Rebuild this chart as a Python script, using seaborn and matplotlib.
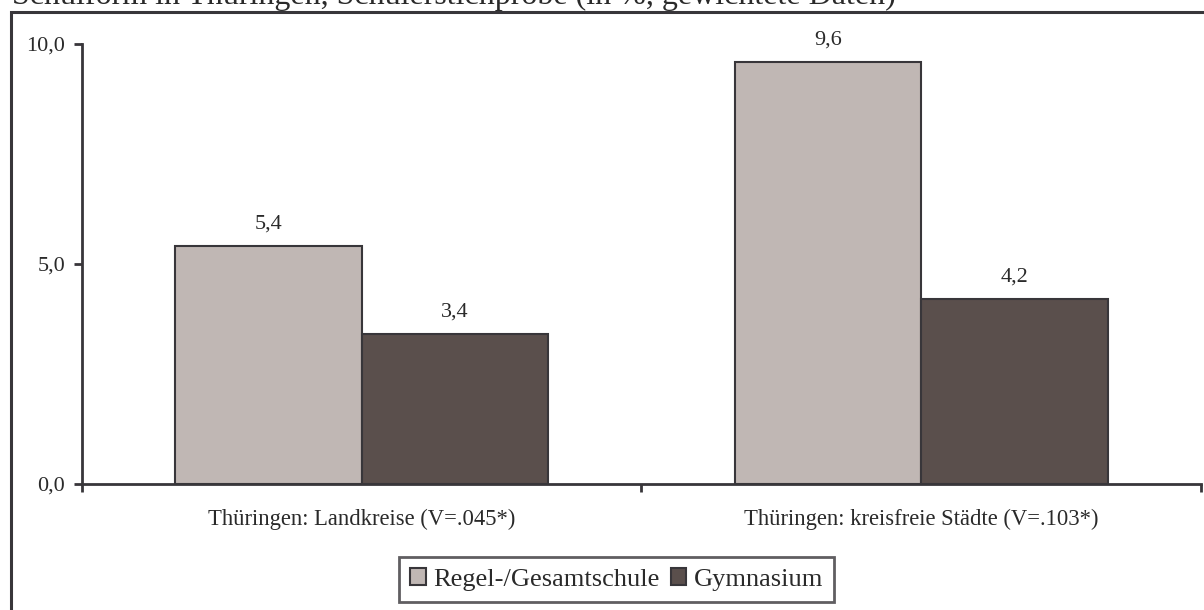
import matplotlib
matplotlib.use("Agg")
import matplotlib.pyplot as plt
from matplotlib.patches import Patch, Rectangle
import seaborn as sns
import pandas as pd

# Data: share (in %) per region and school type
regions = ["Thüringen: Landkreise (V=.045*)", "Thüringen: kreisfreie Städte (V=.103*)"]
schools = ["Regel-/Gesamtschule", "Gymnasium"]
regel_values = [5.4, 9.6]
gym_values = [3.4, 4.2]
y_ticks = [0.0, 5.0, 10.0]
title = "Schulform in Thüringen, Schülerstichprobe (in %, gewichtete Daten)"

colors = {"Regel-/Gesamtschule": "#c0b7b4", "Gymnasium": "#5a4f4c"}
edge = "#38363a"
text_color = "#2a2a2a"

sns.set_theme(style="white")
plt.rcParams["font.family"] = ["Liberation Serif", "DejaVu Serif"]

df = pd.DataFrame({
    "region": regions * 2,
    "school": [schools[0]] * 2 + [schools[1]] * 2,
    "value": regel_values + gym_values,
})

W, H = 1204, 610
fig = plt.figure(figsize=(W / 100, H / 100), dpi=100)
ax = fig.add_axes([82 / W, 1 - 484 / H, (1201 - 82) / W, (484 - 44) / H])

sns.barplot(data=df, x="region", y="value", hue="school", hue_order=schools,
            palette=colors, width=0.667, gap=0, edgecolor=edge, linewidth=1.5,
            ax=ax, legend=False, errorbar=None, saturation=1)

ax.set_xlim(-0.5, 1.5)
ax.set_ylim(0, 10)
ax.set_xlabel("")
ax.set_ylabel("")

# value labels with decimal comma
for cont in ax.containers:
    vals = cont.datavalues
    ax.bar_label(cont, labels=[f"{v:.1f}".replace(".", ",") for v in vals],
                 padding=9, fontsize=16, color=text_color)

# axes styling
for s in ["top", "right"]:
    ax.spines[s].set_visible(False)
for s in ["left", "bottom"]:
    ax.spines[s].set_color(edge)
    ax.spines[s].set_linewidth(2)

ax.set_yticks(y_ticks)
ax.set_yticklabels([f"{t:.1f}".replace(".", ",") for t in y_ticks], fontsize=16, color=text_color)
ax.tick_params(axis="y", direction="out", length=6, width=2, color=edge, pad=6, left=True)

ax.set_xticks([0, 1])
ax.set_xticklabels(regions, fontsize=16.3, color=text_color)
ax.set_xticks([-0.5, 0.5, 1.5], minor=True)
ax.tick_params(axis="x", which="major", length=0, pad=18)
ax.tick_params(axis="x", which="minor", direction="out", length=6, width=2, color=edge, bottom=True)

# legend
handles = [Patch(facecolor=colors[s], edgecolor=edge, linewidth=1.5, label=s) for s in schools]
leg = fig.legend(handles=handles, loc="center", bbox_to_anchor=(616.5 / W, 1 - 579.5 / H),
                 ncol=2, fontsize=19, frameon=True, fancybox=False, handlelength=0.6,
                 handleheight=0.6, handletextpad=0.27, columnspacing=0.42,
                 borderpad=0.42, labelcolor=text_color)
leg.get_frame().set_edgecolor(edge)
leg.get_frame().set_linewidth(2)

# outer frame
fig.patches.append(Rectangle((11 / W, -0.1), 1.2, 1.1 - 12 / H, transform=fig.transFigure,
                             fill=False, edgecolor=edge, linewidth=2.2))

# title, partly clipped at the top edge
fig.text(12 / W, 1 - 4 / H, title, fontsize=23, va="baseline", ha="left", color=text_color)

fig.savefig("out.png", dpi=100)
